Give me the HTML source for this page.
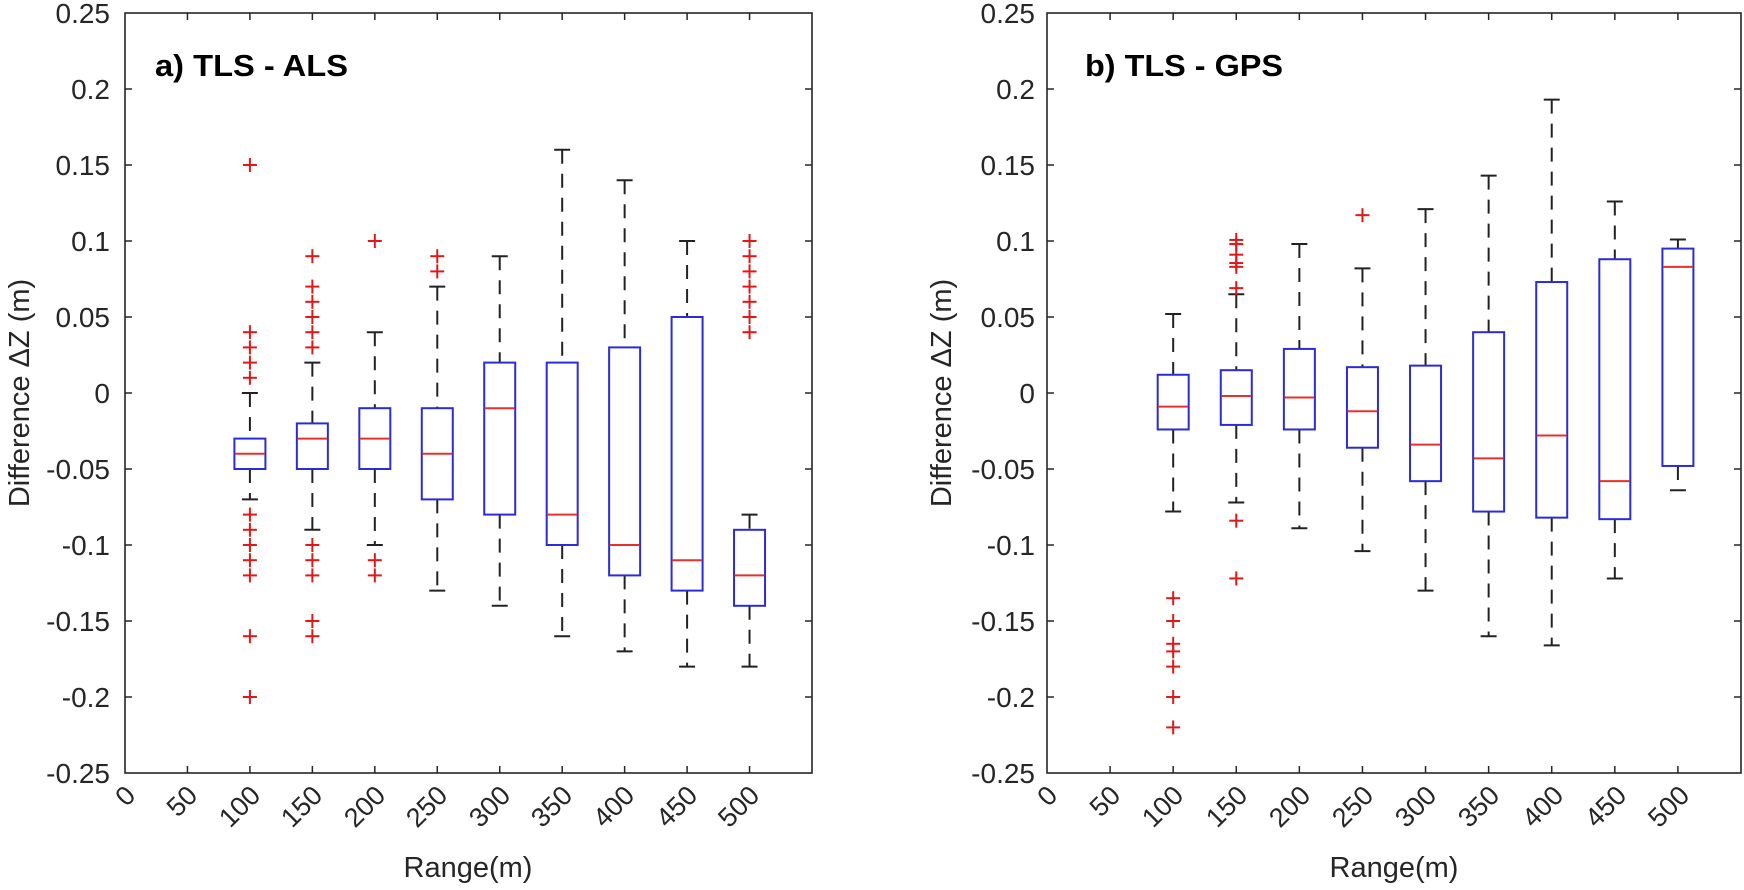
<!DOCTYPE html>
<html><head><meta charset="utf-8"><style>
html,body{margin:0;padding:0;background:#fff;}
svg{display:block;font-family:"Liberation Sans",Arial,sans-serif;}
</style></head><body>
<svg id="s" width="1744" height="890" viewBox="0 0 1744 890" xmlns="http://www.w3.org/2000/svg">
<g font-size="28" fill="#262626" text-anchor="end">
<text x="110" y="23">0.25</text><text x="110" y="99">0.2</text><text x="110" y="175">0.15</text><text x="110" y="251">0.1</text><text x="110" y="327">0.05</text><text x="110" y="403">0</text><text x="110" y="479">-0.05</text><text x="110" y="555">-0.1</text><text x="110" y="631">-0.15</text><text x="110" y="707">-0.2</text><text x="110" y="783">-0.25</text>
<text x="1035" y="23">0.25</text><text x="1035" y="99">0.2</text><text x="1035" y="175">0.15</text><text x="1035" y="251">0.1</text><text x="1035" y="327">0.05</text><text x="1035" y="403">0</text><text x="1035" y="479">-0.05</text><text x="1035" y="555">-0.1</text><text x="1035" y="631">-0.15</text><text x="1035" y="707">-0.2</text><text x="1035" y="783">-0.25</text>
</g>
<g font-size="27" fill="#262626" text-anchor="end">
<text transform="translate(137,797) rotate(-45)">0</text>
<text transform="translate(199,797) rotate(-45)">50</text>
<text transform="translate(262,797) rotate(-45)">100</text>
<text transform="translate(324,797) rotate(-45)">150</text>
<text transform="translate(387,797) rotate(-45)">200</text>
<text transform="translate(449,797) rotate(-45)">250</text>
<text transform="translate(512,797) rotate(-45)">300</text>
<text transform="translate(574,797) rotate(-45)">350</text>
<text transform="translate(636,797) rotate(-45)">400</text>
<text transform="translate(699,797) rotate(-45)">450</text>
<text transform="translate(761,797) rotate(-45)">500</text>
<text transform="translate(1059,797) rotate(-45)">0</text>
<text transform="translate(1122,797) rotate(-45)">50</text>
<text transform="translate(1185,797) rotate(-45)">100</text>
<text transform="translate(1249,797) rotate(-45)">150</text>
<text transform="translate(1312,797) rotate(-45)">200</text>
<text transform="translate(1375,797) rotate(-45)">250</text>
<text transform="translate(1438,797) rotate(-45)">300</text>
<text transform="translate(1501,797) rotate(-45)">350</text>
<text transform="translate(1565,797) rotate(-45)">400</text>
<text transform="translate(1628,797) rotate(-45)">450</text>
<text transform="translate(1691,797) rotate(-45)">500</text>
</g>
<g font-size="29" fill="#262626" text-anchor="middle">
<text x="468" y="877">Range(m)</text>
<text x="1394" y="877">Range(m)</text>
<text transform="translate(29,393) rotate(-90)">Difference ΔZ (m)</text>
<text transform="translate(951,393) rotate(-90)">Difference ΔZ (m)</text>
</g>
<g font-size="31" font-weight="bold" fill="#000">
<text x="155" y="76" textLength="193" lengthAdjust="spacingAndGlyphs">a) TLS - ALS</text>
<text x="1085" y="76" textLength="198" lengthAdjust="spacingAndGlyphs">b) TLS - GPS</text>
</g>
<g id="g"></g>
</svg>
<script>
var g=document.getElementById('g'),h='';
function Y(v){return 393-v*1520;}
function line(x1,y1,x2,y2,c,w,d){h+='<line x1="'+x1+'" y1="'+y1+'" x2="'+x2+'" y2="'+y2+'" stroke="'+c+'" stroke-width="'+(w||1.5)+'"'+(d?' stroke-dasharray="'+d+'"':'')+'/>';}
function axes(L,R){
 h+='<rect x="'+L+'" y="13" width="'+(R-L)+'" height="760" fill="none" stroke="#262626" stroke-width="1.6"/>';
 var s=(R-L)/550;
 for(var k=1;k<=10;k++){var x=L+k*50*s;line(x,13,x,20,'#262626');line(x,773,x,766,'#262626');}
 for(var j=1;j<10;j++){var y=13+j*76;line(L,y,L+7,y,'#262626');line(R,y,R-7,y,'#262626');}
}
function box(L,R,r,q1,md,q3,lo,hi,out){
 var s=(R-L)/550,x=L+r*s;
 line(x,Y(hi),x,Y(q3),'#222',2,'14,10');line(x,Y(q1),x,Y(lo),'#222',2,'14,10');
 line(x-8,Y(hi),x+8,Y(hi),'#222',2);line(x-8,Y(lo),x+8,Y(lo),'#222',2);
 h+='<rect x="'+(x-15.5)+'" y="'+Y(q3)+'" width="31" height="'+(Y(q1)-Y(q3))+'" fill="#fff" stroke="#2b2bd8" stroke-width="2"/>';
 line(x-15,Y(md),x+15,Y(md),'#e8302a',2);
 (out||[]).forEach(function(v){var y=Y(v);line(x-7,y,x+7,y,'#e01818',2);line(x,y-7,x,y+7,'#e01818',2);});
}
axes(125,812);axes(1047,1741);
var a=[[100,-0.05,-0.04,-0.03,-0.07,0,[0.15,0.04,0.03,0.02,0.01,-0.08,-0.09,-0.1,-0.11,-0.12,-0.16,-0.2]],
[150,-0.05,-0.03,-0.02,-0.09,0.02,[0.09,0.07,0.06,0.05,0.04,0.03,-0.1,-0.11,-0.12,-0.15,-0.16]],
[200,-0.05,-0.03,-0.01,-0.1,0.04,[0.1,-0.11,-0.12]],
[250,-0.07,-0.04,-0.01,-0.13,0.07,[0.08,0.09]],
[300,-0.08,-0.01,0.02,-0.14,0.09],[350,-0.1,-0.08,0.02,-0.16,0.16],[400,-0.12,-0.1,0.03,-0.17,0.14],
[450,-0.13,-0.11,0.05,-0.18,0.1],[500,-0.14,-0.12,-0.09,-0.18,-0.08,[0.04,0.05,0.06,0.07,0.08,0.09,0.1]]];
var b=[[100,-0.024,-0.009,0.012,-0.078,0.052,[-0.135,-0.15,-0.165,-0.17,-0.18,-0.2,-0.22]],
[150,-0.021,-0.002,0.015,-0.072,0.065,[0.1007,0.098,0.091,0.0855,0.083,0.069,-0.084,-0.122]],
[200,-0.024,-0.003,0.029,-0.089,0.098],[250,-0.036,-0.012,0.017,-0.104,0.082,[0.117]],
[300,-0.058,-0.034,0.018,-0.13,0.121],[350,-0.078,-0.043,0.04,-0.16,0.143],
[400,-0.082,-0.028,0.073,-0.166,0.193],[450,-0.083,-0.058,0.088,-0.122,0.126],[500,-0.048,0.083,0.095,-0.064,0.101]];
a.forEach(function(d){box(125,812,d[0],d[1],d[2],d[3],d[4],d[5],d[6]);});
b.forEach(function(d){box(1047,1741,d[0],d[1],d[2],d[3],d[4],d[5],d[6]);});
g.innerHTML=h;
</script>
</body></html>
